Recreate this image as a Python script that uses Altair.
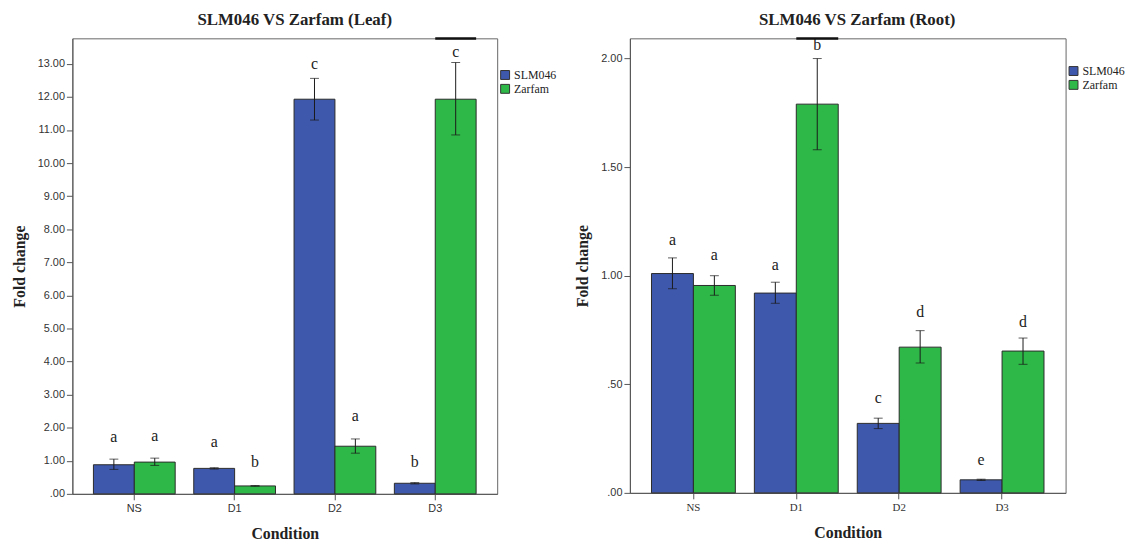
import altair as alt
import pandas as pd

conditions = ["NS", "D1", "D2", "D3"]
series = ["SLM046", "Zarfam"]
colors = ["#3E58AC", "#2EB848"]

# Leaf panel
leaf_slm = [0.88, 0.77, 11.93, 0.32]
leaf_slm_lo = [0.74, 0.75, 11.30, 0.30]
leaf_slm_hi = [1.05, 0.79, 12.56, 0.34]
leaf_zar = [0.96, 0.24, 1.44, 11.93]
leaf_zar_lo = [0.86, 0.23, 1.23, 10.85]
leaf_zar_hi = [1.08, 0.25, 1.66, 13.04]
leaf_slm_letters = ["a", "a", "c", "b"]
leaf_zar_letters = ["a", "b", "a", "c"]
leaf_slm_letter_y = [1.73, 1.56, 13.0, 0.96]
leaf_zar_letter_y = [1.76, 0.96, 2.35, 13.37]
leaf_top_mark = "D3"

# Root panel
root_slm = [1.01, 0.92, 0.32, 0.06]
root_slm_lo = [0.94, 0.873, 0.296, 0.057]
root_slm_hi = [1.082, 0.97, 0.344, 0.063]
root_zar = [0.955, 1.79, 0.671, 0.653]
root_zar_lo = [0.91, 1.58, 0.598, 0.592]
root_zar_hi = [1.0, 2.0, 0.747, 0.713]
root_slm_letters = ["a", "a", "c", "e"]
root_zar_letters = ["a", "b", "d", "d"]
root_slm_letter_y = [1.164, 1.05, 0.436, 0.15]
root_zar_letter_y = [1.096, 2.06, 0.834, 0.785]
root_top_mark = "D1"

leaf_ticks = [0, 1, 2, 3, 4, 5, 6, 7, 8, 9, 10, 11, 12, 13]
root_ticks = [0, 0.5, 1.0, 1.5, 2.0]


def make_df(slm, slm_lo, slm_hi, zar, zar_lo, zar_hi, sl, zl, sly, zly, top):
    rows = []
    for i, c in enumerate(conditions):
        rows.append(dict(Condition=c, Series="SLM046", Value=slm[i], Lo=slm_lo[i],
                         Hi=slm_hi[i], Letter=sl[i], LetterY=sly[i], Top=False))
        rows.append(dict(Condition=c, Series="Zarfam", Value=zar[i], Lo=zar_lo[i],
                         Hi=zar_hi[i], Letter=zl[i], LetterY=zly[i], Top=(c == top)))
    return pd.DataFrame(rows)


LABEL_EXPR = "datum.value < 1 ? substring(format(datum.value, '.2f'), 1) : format(datum.value, '.2f')"


def panel(df, title, ymax, yticks, w, h, title_offset, title_dx, xlabel_font, legend_y):
    xenc = alt.X("Condition:N", sort=conditions,
                 scale=alt.Scale(paddingInner=0.185, paddingOuter=0.21),
                 axis=alt.Axis(title="Condition", labelAngle=0, tickSize=6, labelPadding=3,
                               titlePadding=12, labelFont=xlabel_font, labelFontSize=11))
    xoff = alt.XOffset("Series:N", sort=series,
                       scale=alt.Scale(paddingInner=0, paddingOuter=0))
    yaxis = alt.Axis(title="Fold change", values=yticks, labelExpr=LABEL_EXPR,
                     tickSize=6, labelPadding=2, titlePadding=10,
                     labelFont="Liberation Sans", labelFontSize=11)
    yscale = alt.Scale(domain=[0, ymax], nice=False, zero=True)

    base = alt.Chart(df)
    bars = base.mark_bar(stroke="#2a2a2a", strokeWidth=1).encode(
        x=xenc, xOffset=xoff,
        y=alt.Y("Value:Q", scale=yscale, axis=yaxis),
        color=alt.Color("Series:N", sort=series,
                        scale=alt.Scale(domain=series, range=colors),
                        legend=alt.Legend(title=None, orient="none", legendX=w + 2,
                                          legendY=legend_y, symbolType="square",
                                          symbolSize=81, symbolStrokeColor="#333",
                                          symbolStrokeWidth=1, symbolOpacity=1,
                                          labelFont="Liberation Serif", labelFontSize=12,
                                          labelColor="#222", rowPadding=0, padding=0,
                                          labelOffset=3)),
    )
    rules = base.mark_rule(color="#1a1a1a", strokeWidth=1).encode(
        x=xenc, xOffset=xoff,
        y=alt.Y("Lo:Q", scale=yscale, axis=yaxis), y2="Hi:Q")
    cap_hi = base.mark_tick(color="#1a1a1a", size=9, thickness=1).encode(
        x=xenc, xOffset=xoff, y=alt.Y("Hi:Q", scale=yscale, axis=yaxis))
    cap_lo = base.mark_tick(color="#1a1a1a", size=9, thickness=1).encode(
        x=xenc, xOffset=xoff, y=alt.Y("Lo:Q", scale=yscale, axis=yaxis))
    letters = base.mark_text(font="Liberation Serif", fontSize=16, baseline="middle",
                             color="#222").encode(
        x=xenc, xOffset=xoff, y=alt.Y("LetterY:Q", scale=yscale, axis=yaxis),
        text="Letter:N")
    top = base.transform_filter("datum.Top").mark_bar(fill="#111").encode(
        x=xenc, xOffset=xoff, y=alt.value(-1), y2=alt.value(1.5))

    return alt.layer(bars, rules, cap_hi, cap_lo, letters, top).properties(
        width=w, height=h,
        title=alt.TitleParams(text=title, font="Liberation Serif", fontSize=17,
                              fontWeight="bold", color="#222", anchor="middle",
                              offset=title_offset, dx=title_dx),
    )


leaf_df = make_df(leaf_slm, leaf_slm_lo, leaf_slm_hi, leaf_zar, leaf_zar_lo, leaf_zar_hi,
                  leaf_slm_letters, leaf_zar_letters, leaf_slm_letter_y, leaf_zar_letter_y,
                  leaf_top_mark)
root_df = make_df(root_slm, root_slm_lo, root_slm_hi, root_zar, root_zar_lo, root_zar_hi,
                  root_slm_letters, root_zar_letters, root_slm_letter_y, root_zar_letter_y,
                  root_top_mark)

left = panel(leaf_df, "SLM046 VS Zarfam (Leaf)", 13.77, leaf_ticks, 429, 460, 8, 10,
             "Liberation Sans", 31)
right = panel(root_df, "SLM046 VS Zarfam (Root)", 2.093, root_ticks, 440, 459, 8, 9.5,
              "Liberation Serif", 27)

chart = alt.hconcat(left, right, spacing=17).resolve_scale(
    x="independent", y="independent", xOffset="independent"
).resolve_legend(color="independent").properties(
    padding={"left": 2, "top": 0, "right": 0, "bottom": 0}
).configure_view(stroke="#666", strokeWidth=1).configure_axis(
    domainColor="#555", tickColor="#555", grid=False, labelColor="#333",
    titleFont="Liberation Serif", titleFontWeight="bold", titleFontSize=16,
    titleColor="#222"
)

chart.save("out.html", embed_options={"renderer": "svg", "actions": False})
